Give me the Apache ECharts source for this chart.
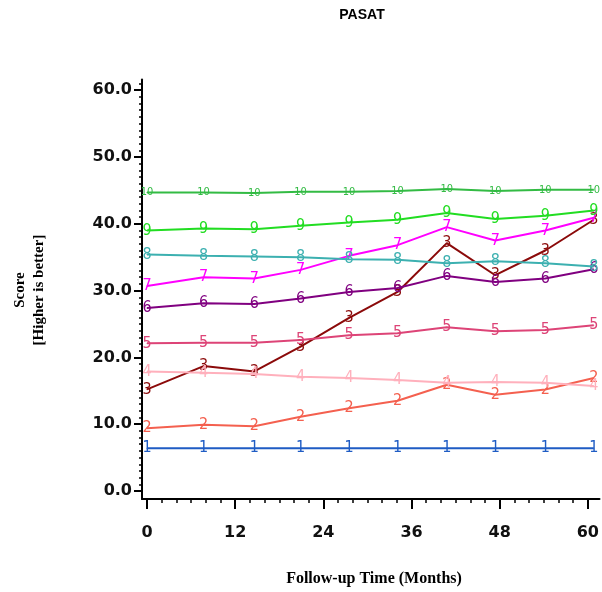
<!DOCTYPE html>
<html>
<head>
<meta charset="utf-8">
<script src="https://cdn.jsdelivr.net/npm/echarts@6/dist/echarts.min.js"></script>
<style>html,body{margin:0;padding:0;background:#fff}#c{width:602px;height:592px}</style>
</head>
<body>
<div id="c"></div>
<script>
var months = [0, 7.7, 14.6, 20.9, 27.5, 34.1, 40.8, 47.4, 54.2, 60.8];
var seriesNames = ['1','2','3','4','5','6','7','8','9','10'];
var s1 = [6.4, 6.4, 6.4, 6.4, 6.4, 6.4, 6.4, 6.4, 6.4, 6.4];
var s2 = [9.4, 9.9, 9.7, 11.1, 12.4, 13.5, 15.9, 14.4, 15.2, 16.9];
var s3 = [15.2, 18.7, 17.9, 21.6, 25.9, 29.8, 37.1, 32.3, 36.0, 40.6];
var s4 = [17.9, 17.7, 17.5, 17.1, 16.9, 16.6, 16.2, 16.3, 16.2, 15.7];
var s5 = [22.1, 22.2, 22.2, 22.6, 23.3, 23.6, 24.5, 23.9, 24.1, 24.8];
var s6 = [27.4, 28.1, 28.0, 28.8, 29.8, 30.4, 32.2, 31.3, 31.8, 33.2];
var s7 = [30.7, 32.0, 31.8, 33.1, 35.2, 36.8, 39.5, 37.5, 39.0, 40.9];
var s8 = [35.4, 35.2, 35.1, 35.0, 34.7, 34.6, 34.1, 34.4, 34.1, 33.6];
var s9 = [39.0, 39.3, 39.2, 39.7, 40.2, 40.6, 41.6, 40.7, 41.2, 42.0];
var s10 = [44.7, 44.7, 44.6, 44.8, 44.8, 44.9, 45.2, 44.9, 45.1, 45.1];
var yTicks = [0, 10, 20, 30, 40, 50, 60];
var xTicks = [0, 12, 24, 36, 48, 60];
var colors = ['#1f5cc4', '#f4604f', '#8b0a0a', '#ffb0bc', '#dd4477', '#800080', '#ff00ff', '#3cb0b0', '#22dd22', '#33bb44'];

var allSeries = [s1, s2, s3, s4, s5, s6, s7, s8, s9, s10];
var yMinor = []; for (var i = 0; i <= 61; i++) yMinor.push(i);
var xMinor = []; for (var j = 0; j <= 60; j += 2) xMinor.push(j);

var chart = echarts.init(document.getElementById('c'), null, {renderer: 'canvas'});
var axFont = {fontFamily: 'DejaVu Sans', fontWeight: 'bold', fontSize: 16, color: '#111'};
var common = {type: 'value', min: -0.68, max: 61.58};
var commonY = {type: 'value', min: -1.2, max: 61.6};

var series = allSeries.map(function (vals, k) {
  return {
    type: 'line',
    name: seriesNames[k],
    xAxisIndex: 0, yAxisIndex: 0,
    data: vals.map(function (v, i) { return [months[i], v]; }),
    symbol: 'circle', symbolSize: 1,
    lineStyle: {color: colors[k], width: 2},
    itemStyle: {color: colors[k]},
    label: {
      show: true, position: 'inside',
      formatter: seriesNames[k],
      color: colors[k], fontSize: k === 9 ? 11 : 16,
      fontFamily: 'Liberation Sans Narrow, DejaVu Sans Condensed, sans-serif'
    },
    labelLayout: {hideOverlap: false},
    emphasis: {disabled: true},
    animation: false, z: 3 + k
  };
});

chart.setOption({
  animation: false,
  grid: {left: 142, right: 0, top: 79.5, bottom: 93, containLabel: false},
  xAxis: [
    Object.assign({}, common, {
      position: 'bottom',
      axisLine: {onZero: false, lineStyle: {color: '#000', width: 2}},
      axisTick: {show: true, length: 10, customValues: xTicks, lineStyle: {color: '#000', width: 2}},
      axisLabel: Object.assign({customValues: xTicks, margin: 26, formatter: function (v) { return String(v); }}, axFont),
      splitLine: {show: false}
    }),
    Object.assign({}, common, {
      position: 'bottom',
      axisLine: {show: false, onZero: false},
      axisTick: {show: true, length: 4, customValues: xMinor, lineStyle: {color: '#000', width: 1.5}},
      axisLabel: {show: false},
      splitLine: {show: false}
    })
  ],
  yAxis: [
    Object.assign({}, commonY, {
      position: 'left',
      axisLine: {show: true, onZero: false, lineStyle: {color: '#000', width: 2}},
      axisTick: {show: true, length: 8, customValues: yTicks, lineStyle: {color: '#000', width: 2}},
      axisLabel: Object.assign({customValues: yTicks, margin: 10, formatter: function (v) { return v.toFixed(1); }}, axFont),
      splitLine: {show: false}
    }),
    Object.assign({}, commonY, {
      position: 'left',
      axisLine: {show: false, onZero: false},
      axisTick: {show: true, length: 3, customValues: yMinor, lineStyle: {color: '#000', width: 1.5}},
      axisLabel: {show: false},
      splitLine: {show: false}
    })
  ],
  series: series,
  graphic: [
    {type: 'text', x: 362, y: 15, style: {text: 'PASAT', fontFamily: 'Liberation Sans', fontWeight: 'bold', fontSize: 14, fill: '#000', align: 'center', verticalAlign: 'middle'}},
    {type: 'text', x: 374, y: 579, style: {text: 'Follow-up Time (Months)', fontFamily: 'Liberation Serif', fontWeight: 'bold', fontSize: 16, fill: '#000', align: 'center', verticalAlign: 'middle'}},
    {type: 'text', x: 20, y: 290, rotation: Math.PI / 2, style: {text: 'Score', fontFamily: 'Liberation Serif', fontWeight: 'bold', fontSize: 15, fill: '#000', align: 'center', verticalAlign: 'middle'}},
    {type: 'text', x: 39, y: 290, rotation: Math.PI / 2, style: {text: '[Higher is better]', fontFamily: 'Liberation Serif', fontWeight: 'bold', fontSize: 15, fill: '#000', align: 'center', verticalAlign: 'middle'}}
  ]
});
</script>
</body>
</html>
